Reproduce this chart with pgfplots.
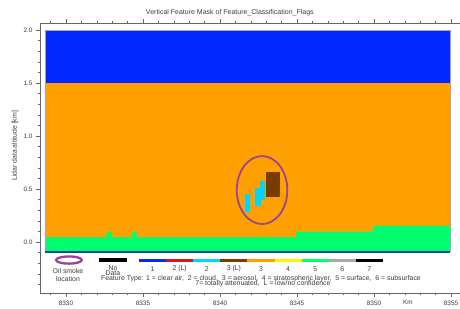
\documentclass[border=0pt]{standalone}
\usepackage{fontspec}
\setmainfont{Liberation Sans}
\usepackage{pgfplots}
\pgfplotsset{compat=1.18}
\definecolor{vfmblue}{RGB}{0,40,255}
\definecolor{vfmorange}{RGB}{255,160,0}
\definecolor{vfmgreen}{RGB}{0,255,110}
\definecolor{vfmcyan}{RGB}{0,215,255}
\definecolor{vfmbrown}{RGB}{120,60,0}
\definecolor{vfmred}{RGB}{220,20,30}
\definecolor{vfmyellow}{RGB}{255,245,0}
\definecolor{vfmgray}{RGB}{170,170,170}
\definecolor{vfmline}{RGB}{20,70,150}
\definecolor{smoke}{RGB}{150,70,150}
\definecolor{txt}{RGB}{60,60,60}
\newcommand\lf{\fontsize{6.9}{7}\selectfont}
\begin{document}
\begin{tikzpicture}
\path[use as bounding box] (-40pt,-15pt) rectangle (420pt,293pt);
\begin{axis}[
  scale only axis, width=420pt, height=270pt,
  at={(0,0)}, anchor=south west,
  xmin=8328.312, xmax=8355.584, ymin=-0.481, ymax=2.066,
  clip=false,
  axis x line*=box, axis y line*=left,
  x axis line style={-}, y axis line style={-},
  axis line style={draw=black!60, line width=0.5pt},
  tick align=outside,
  major tick length=4pt, minor tick length=2pt,
  tick style={draw=black!60, line width=0.4pt},
  xtick={8330,8335,...,8355},
  minor xtick={8329,8330,...,8355},
  ytick={0,0.5,1,1.5,2},
  minor ytick={-0.4,-0.3,-0.2,-0.1,0.1,0.2,0.3,0.4,0.6,0.7,0.8,0.9,1.1,1.2,1.3,1.4,1.6,1.7,1.8,1.9},
  /pgf/number format/assume math mode=true,
  ticklabel style={font=\fontsize{6.4}{7}\selectfont, text=txt},
  xticklabel style={/pgf/number format/1000 sep={}},
  yticklabel style={/pgf/number format/fixed, /pgf/number format/fixed zerofill, /pgf/number format/precision=1},
  title={Vertical Feature Mask of Feature\_Classification\_Flags},
  title style={font=\fontsize{7}{8}\selectfont, text=txt, at={(axis description cs:0.452,1.015)}, anchor=center, yshift=0pt},
  ylabel={Lidar data altitude [km]},
  ylabel style={font=\fontsize{6.9}{8}\selectfont, text=txt, at={(axis description cs:-0.0595,0.545)}, anchor=center},
]
% background layers
\addplot[fill=vfmorange, draw=none] coordinates {(8328.64,-0.094) (8354.94,-0.094) (8354.94,1.5) (8328.64,1.5)} -- cycle;
\addplot[fill=vfmblue, draw=none] coordinates {(8328.64,1.5) (8354.94,1.5) (8354.94,2.0) (8328.64,2.0)} -- cycle;
\addplot[fill=vfmgreen, draw=none] coordinates {(8328.64,-0.094) (8328.64,0.045) (8332.66,0.045) (8332.66,0.097) (8332.99,0.097) (8332.99,0.045) (8334.29,0.045) (8334.29,0.097) (8334.61,0.097) (8334.61,0.045) (8344.94,0.045) (8344.94,0.097) (8349.94,0.097) (8349.94,0.155) (8354.94,0.155) (8354.94,-0.094)} -- cycle;
\addplot[draw=black!35, line width=0.4pt] coordinates {(8328.64,-0.094) (8328.64,2.0) (8354.94,2.0) (8354.94,-0.094)};
\addplot[draw=vfmline, line width=1.2pt] coordinates {(8328.64,-0.094) (8354.94,-0.094)};
% aerosol features
\addplot[fill=vfmcyan, draw=none] coordinates {(8341.60,0.286) (8341.95,0.286) (8341.95,0.450) (8341.60,0.450)} -- cycle;
\addplot[fill=vfmcyan, draw=none] coordinates {(8342.29,0.342) (8342.64,0.342) (8342.64,0.512) (8342.29,0.512)} -- cycle;
\addplot[fill=vfmcyan, draw=none] coordinates {(8342.60,0.396) (8342.90,0.396) (8342.90,0.575) (8342.60,0.575)} -- cycle;
\addplot[fill=vfmbrown, draw=none] coordinates {(8342.97,0.427) (8343.92,0.427) (8343.92,0.663) (8342.97,0.663)} -- cycle;
% smoke ellipse
\draw[smoke, line width=1.8pt] (axis cs:8342.73,0.49) ellipse [x radius=25.3pt, y radius=34pt];
% legend
\draw[smoke, line width=2.3pt] (axis cs:8330.19,-0.170) ellipse [x radius=12.8pt, y radius=3.6pt];
\node[font=\lf, text=txt] at (axis cs:8330.13,-0.274) {Oil smoke};
\node[font=\lf, text=txt] at (axis cs:8330.13,-0.349) {location};
\addplot[draw=black, line width=3.5pt] coordinates {(8332.14,-0.170) (8333.96,-0.170)};
\node[font=\lf, text=txt] at (axis cs:8333.05,-0.245) {No};
\node[font=\lf, text=txt] at (axis cs:8333.05,-0.292) {Data};
\addplot[draw=vfmblue, line width=3pt] coordinates {(8334.74,-0.170) (8336.50,-0.170)};
\addplot[draw=vfmred, line width=3pt] coordinates {(8336.50,-0.170) (8338.26,-0.170)};
\addplot[draw=vfmcyan, line width=3pt] coordinates {(8338.26,-0.170) (8340.02,-0.170)};
\addplot[draw=vfmbrown, line width=3pt] coordinates {(8340.02,-0.170) (8341.78,-0.170)};
\addplot[draw=vfmorange, line width=3pt] coordinates {(8341.78,-0.170) (8343.54,-0.170)};
\addplot[draw=vfmyellow, line width=3pt] coordinates {(8343.54,-0.170) (8345.30,-0.170)};
\addplot[draw=vfmgreen, line width=3pt] coordinates {(8345.30,-0.170) (8347.06,-0.170)};
\addplot[draw=vfmgray, line width=3pt] coordinates {(8347.06,-0.170) (8348.82,-0.170)};
\addplot[draw=black, line width=3pt] coordinates {(8348.82,-0.170) (8350.58,-0.170)};
\node[font=\lf, text=txt] at (axis cs:8335.62,-0.255) {1};
\node[font=\lf, text=txt] at (axis cs:8337.38,-0.255) {2 (L)};
\node[font=\lf, text=txt] at (axis cs:8339.14,-0.255) {2};
\node[font=\lf, text=txt] at (axis cs:8340.90,-0.255) {3 (L)};
\node[font=\lf, text=txt] at (axis cs:8342.66,-0.255) {3};
\node[font=\lf, text=txt] at (axis cs:8344.42,-0.255) {4};
\node[font=\lf, text=txt] at (axis cs:8346.18,-0.255) {5};
\node[font=\lf, text=txt] at (axis cs:8347.94,-0.255) {6};
\node[font=\lf, text=txt] at (axis cs:8349.70,-0.255) {7};
\node[font=\lf, text=txt] at (axis cs:8342.66,-0.349) {Feature Type: 1 = clear air,\ \ 2 = cloud,\ \ 3 = aerosol,\ \ 4 = stratospheric layer,\ \ 5 = surface,\ \ 6 = subsurface};
\node[font=\lf, text=txt] at (axis cs:8342.79,-0.396) {7= totally attenuated,\ \ L = low/no confidence};
\node[font=\fontsize{6.4}{7}\selectfont, text=txt] at (axis cs:8352.2,-0.566) {Km};
\end{axis}
\end{tikzpicture}
\end{document}
